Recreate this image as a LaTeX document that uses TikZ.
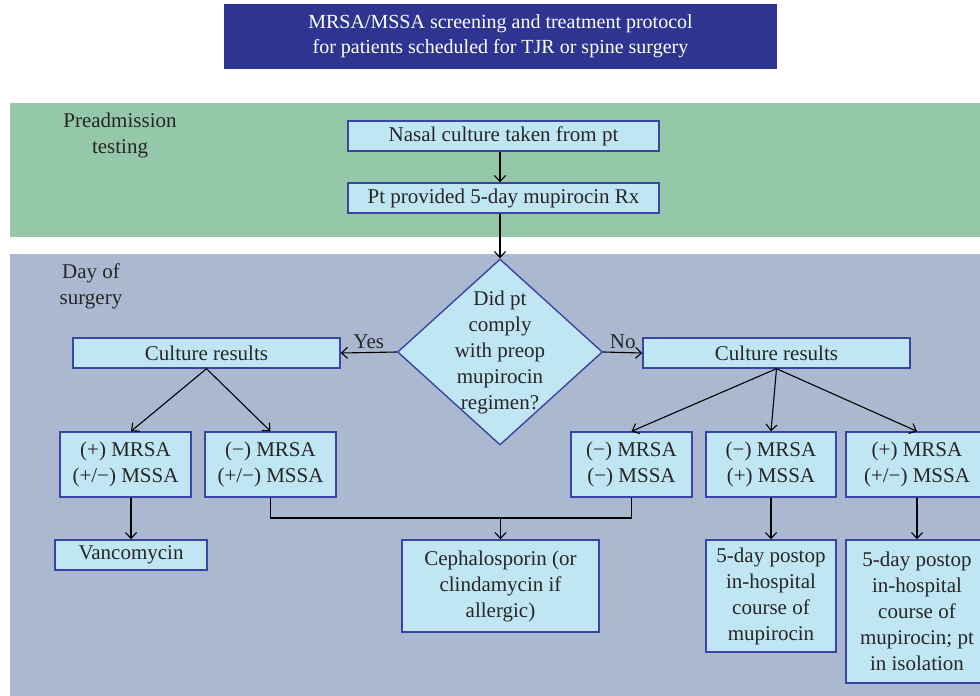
\documentclass[tikz,border=0pt]{standalone}
\usepackage{fontspec}
\setmainfont{Liberation Serif}
\usetikzlibrary{shapes.geometric,arrows.meta,positioning}
\definecolor{titleblue}{RGB}{46,53,144}
\definecolor{preopgreen}{RGB}{149,199,169}
\definecolor{surgeryblue}{RGB}{170,185,207}
\definecolor{boxfill}{RGB}{192,230,244}
\definecolor{boxline}{RGB}{58,68,165}

\begin{document}
\begin{tikzpicture}[x=1pt, y=-1pt,
    font=\fontsize{21}{26}\selectfont,
    box/.style={rectangle, draw=boxline, line width=1.4pt, fill=boxfill, align=center, inner sep=0pt, text=black!85},
    question/.style={diamond, draw=boxline, line width=1.4pt, fill=boxfill, inner sep=0pt, minimum width=205pt, minimum height=186pt},
    arrow/.style={-{Straight Barb[length=6pt,width=11pt]}, line width=1.1pt},
    link/.style={line width=1.1pt},
    phase/.style={align=center, text=black!85}
]
    \useasboundingbox (0,0) rectangle (980,696);
    % phase bands
    \fill[preopgreen] (10,103) rectangle (980,237);
    \fill[surgeryblue] (10,254) rectangle (980,696);
    \node[phase] (preadm) at (120,135) {Preadmission\\testing};
    \node[phase] (dayof) at (91,286) {Day of\\surgery};

    \node[rectangle, fill=titleblue, text=white, align=center, minimum width=553pt, minimum height=65pt, font=\fontsize{20}{25}\selectfont] (title) at (500.5,36.5) {MRSA/MSSA screening and treatment protocol\\for patients scheduled for TJR or spine surgery};

    \node[box, minimum width=311pt, minimum height=30pt] (nasal) at (503.5,136) {Nasal culture taken from pt};
    \node[box, minimum width=311pt, minimum height=30pt] (rx) at (503.5,198) {Pt provided 5-day mupirocin Rx};
    \node[question, label={[align=center, text=black!85]center:Did pt\\comply\\with preop\\mupirocin\\regimen?}] (comply) at (500,352) {};

    \node[box, minimum width=267pt, minimum height=30pt] (cultyes) at (206.5,353) {Culture results};
    \node[box, minimum width=267pt, minimum height=30pt] (cultno) at (776.5,353) {Culture results};

    % result boxes
    \node[box, minimum width=131pt, minimum height=65pt] (mrsapos) at (125.5,464.5) {(+) MRSA\\(+/−) MSSA};
    \node[box, minimum width=131pt, minimum height=65pt] (mrsaneg) at (270.5,464.5) {(−) MRSA\\(+/−) MSSA};
    \node[box, minimum width=121pt, minimum height=65pt] (bothneg) at (631.5,464.5) {(−) MRSA\\(−) MSSA};
    \node[box, minimum width=130pt, minimum height=65pt] (mssapos) at (771,464.5) {(−) MRSA\\(+) MSSA};
    \node[box, minimum width=142pt, minimum height=65pt] (mrsaposb) at (917,464.5) {(+) MRSA\\(+/−) MSSA};

    % treatment boxes
    \node[box, minimum width=152pt, minimum height=30pt] (vanco) at (131,555) {Vancomycin};
    \node[box, minimum width=197pt, minimum height=92pt] (ceph) at (500.5,586) {Cephalosporin (or\\clindamycin if\\allergic)};
    \node[box, minimum width=130pt, minimum height=112pt] (postop) at (771,596) {5-day postop\\in-hospital\\course of\\mupirocin};
    \node[box, minimum width=142pt, minimum height=143pt] (isolate) at (917,611.5) {5-day postop\\in-hospital\\course of\\mupirocin; pt\\in isolation};

    \coordinate (merge) at (500.5,518);

    \draw[arrow] (comply.north |- nasal.south) -- (comply.north |- rx.north);
    \draw[arrow] (comply.north |- rx.south) -- (comply.north);
    \draw[arrow] (comply.west) -- node[above, text=black!85] {Yes} (cultyes.east);
    \draw[arrow] (comply.east) -- node[above, text=black!85] {No} (cultno.west);

    \draw[arrow] (cultyes.south) -- (vanco.north |- mrsapos.north);
    \draw[arrow] (cultyes.south) -- (mrsaneg.north);
    \draw[arrow] (cultno.south) -- (bothneg.north);
    \draw[arrow] (cultno.south) -- (mssapos.north);
    \draw[arrow] (cultno.south) -- (mrsaposb.north);

    \draw[arrow] (vanco.north |- mrsapos.south) -- (vanco);
    \draw[link] (mrsaneg.south) |- (merge);
    \draw[link] (bothneg.south) |- (merge);
    \draw[arrow] (merge) -- (ceph);
    \draw[arrow] (mssapos) -- (postop);
    \draw[arrow] (mrsaposb) -- (isolate);
\end{tikzpicture}
\end{document}
